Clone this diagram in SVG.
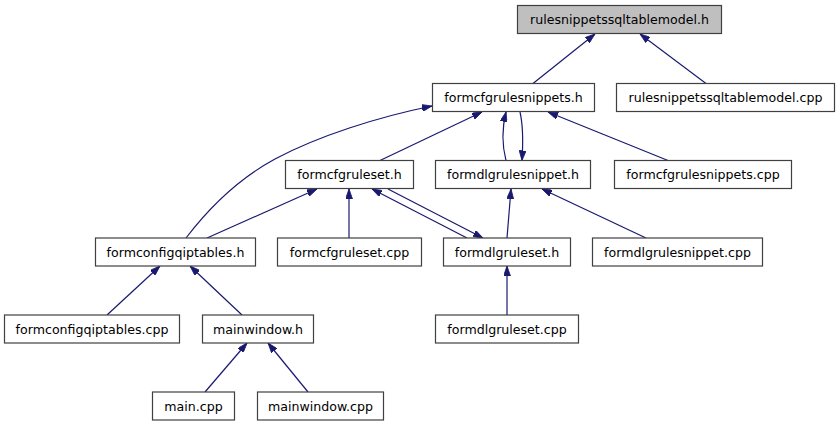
<svg xmlns="http://www.w3.org/2000/svg" width="839" height="427" viewBox="0 0 839 427">
<defs>
<style>
.n rect{fill:#ffffff;stroke:#404040;stroke-width:1.2}
.n.root rect{fill:#bfbfbf}
.n text{font-family:"DejaVu Sans",sans-serif;font-size:12.6px;fill:#000000;text-anchor:middle}
.e path{fill:none;stroke:#191970;stroke-width:1.2;marker-end:url(#ah)}
</style>
<marker id="ah" viewBox="0 0 10 7" refX="10" refY="3.5" markerWidth="10" markerHeight="7" markerUnits="userSpaceOnUse" orient="auto">
<path d="M0,0 L10,3.5 L0,7 z" fill="#191970" stroke="#191970" stroke-width="0.8"/>
</marker>
</defs>
<rect width="839" height="427" fill="#ffffff"/>
<g id="edges" class="e">
<path d="M533,83.5 L595,34"/>
<path d="M706,83.5 L640,34"/>
<path d="M380,160.5 L482,112"/>
<path d="M186,238 C212,204 240,178 275,159 C318,136 378,117 432,106"/>
<path d="M506,160.5 C502,145 502,128 506,112"/>
<path d="M520,112 C523,125 523,145 522,160.5"/>
<path d="M668,160.5 L548,112"/>
<path d="M207,238 L317,189"/>
<path d="M349,238 L349,189"/>
<path d="M467,238 L372,189"/>
<path d="M388,189 L483,238"/>
<path d="M507,238 L511,189"/>
<path d="M646,238 L542,189"/>
<path d="M507,315 L507,266"/>
<path d="M107,315 L160,266"/>
<path d="M242,315 L190,266"/>
<path d="M205,392 L247,343"/>
<path d="M308,392 L268,343"/>
</g>
<g id="n0" class="n root"><rect x="517.5" y="5.5" width="204" height="28"/><text x="619.5" y="24">rulesnippetssqltablemodel.h</text></g>
<g id="n1" class="n"><rect x="432.5" y="83.5" width="162" height="28"/><text x="513.5" y="102">formcfgrulesnippets.h</text></g>
<g id="n2" class="n"><rect x="616.5" y="83.5" width="218" height="28"/><text x="725.5" y="102">rulesnippetssqltablemodel.cpp</text></g>
<g id="n3" class="n"><rect x="285.5" y="160.5" width="128" height="28"/><text x="349.5" y="179">formcfgruleset.h</text></g>
<g id="n4" class="n"><rect x="435.5" y="160.5" width="155" height="28"/><text x="513" y="179">formdlgrulesnippet.h</text></g>
<g id="n5" class="n"><rect x="614.5" y="160.5" width="177" height="28"/><text x="703" y="179">formcfgrulesnippets.cpp</text></g>
<g id="n6" class="n"><rect x="95.5" y="238" width="160" height="28"/><text x="175.5" y="256.5">formconfigqiptables.h</text></g>
<g id="n7" class="n"><rect x="277.5" y="238" width="144" height="28"/><text x="349.5" y="256.5">formcfgruleset.cpp</text></g>
<g id="n8" class="n"><rect x="443.5" y="238" width="127" height="28"/><text x="507" y="256.5">formdlgruleset.h</text></g>
<g id="n9" class="n"><rect x="592.5" y="238" width="170" height="28"/><text x="677.5" y="256.5">formdlgrulesnippet.cpp</text></g>
<g id="n10" class="n"><rect x="4.5" y="315" width="175" height="28"/><text x="92" y="333.5">formconfigqiptables.cpp</text></g>
<g id="n11" class="n"><rect x="202.5" y="315" width="111" height="28"/><text x="258" y="333.5">mainwindow.h</text></g>
<g id="n12" class="n"><rect x="435.5" y="315" width="143" height="28"/><text x="507" y="333.5">formdlgruleset.cpp</text></g>
<g id="n13" class="n"><rect x="152.5" y="392" width="82" height="28"/><text x="193.5" y="410.5">main.cpp</text></g>
<g id="n14" class="n"><rect x="257.5" y="392" width="126" height="28"/><text x="320.5" y="410.5">mainwindow.cpp</text></g>
</svg>
